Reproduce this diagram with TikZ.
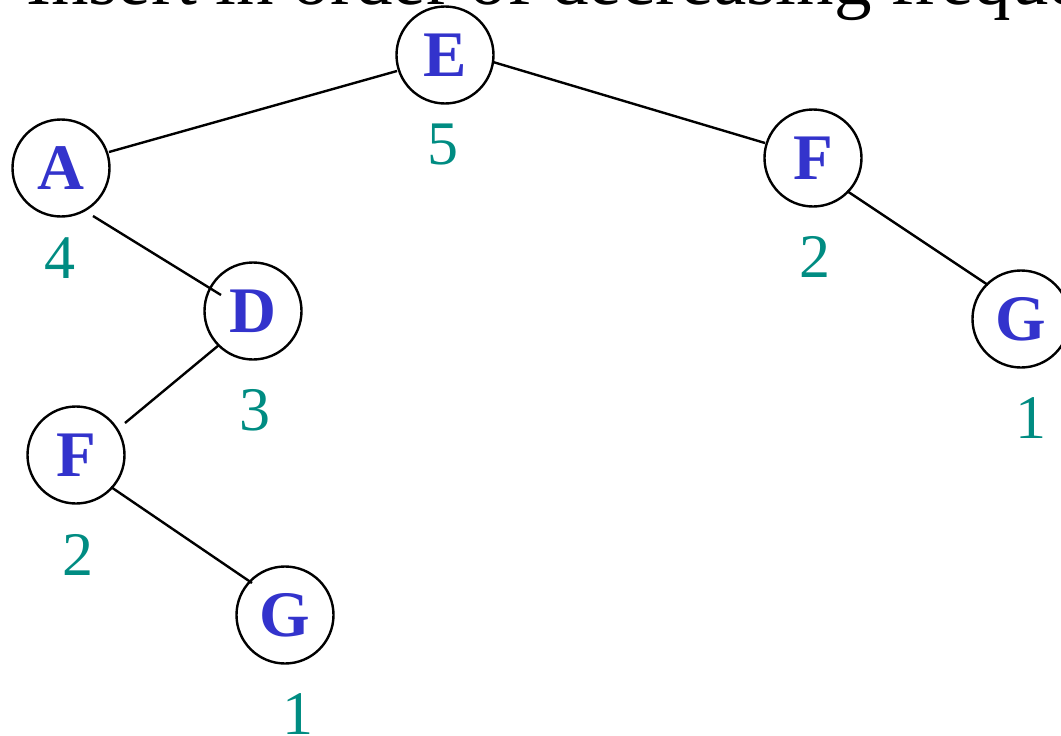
\documentclass[tikz,border=0pt]{standalone}
\usepackage{fontspec}
\setmainfont{Liberation Serif}
\definecolor{letterblue}{RGB}{51,51,204}
\definecolor{numteal}{RGB}{0,140,130}
\begin{document}
\begin{tikzpicture}[x=1pt,y=-1pt,
  vtx/.style={circle,draw,line width=2.4pt,minimum size=97pt,inner sep=0pt,text=letterblue,font=\fontsize{65}{65}\selectfont\bfseries},
  num/.style={text=numteal,anchor=base,inner sep=0pt,font=\fontsize{62}{62}\selectfont},
  edge/.style={line width=2.4pt}]
\useasboundingbox (0,0) rectangle (1061,736);
\clip (0,0) rectangle (1061,736);
\node[anchor=base west,inner sep=0pt,font=\fontsize{75}{75}\selectfont] (title) at (26,5) {Insert in order of decreasing frequency};
\node[vtx] (E) at (445,55) {E};
\node[vtx] (A) at (61,168) {A};
\node[vtx] (D) at (253,311) {D};
\node[vtx] (F1) at (76,455) {F};
\node[vtx] (G1) at (285,615) {G};
\node[vtx] (F2) at (813,158) {F};
\node[vtx] (G2) at (1021,319) {G};
\node[num] (nE) at (443,164) {5};
\node[num] (nA) at (60,278) {4};
\node[num] (nD) at (255,430) {3};
\node[num] (nF1) at (78,575) {2};
\node[num] (nG1) at (298,734) {1};
\node[num] (nF2) at (815,277) {2};
\node[num] (nG2) at (1031,438) {1};
\draw[edge] ([shift={(48,-16)}]A.center) -- ([shift={(-48,16)}]E.center);
\draw[edge] ([shift={(48,7)}]E.center) -- ([shift={(-48,-15)}]F2.center);
\draw[edge] ([shift={(32,48)}]A.center) -- ([shift={(-32,-16)}]D.center);
\draw[edge] ([shift={(-34,34)}]D.center) -- ([shift={(49,-32)}]F1.center);
\draw[edge] ([shift={(35,32)}]F1.center) -- ([shift={(-33,-32)}]G1.center);
\draw[edge] ([shift={(34,33)}]F2.center) -- ([shift={(-33,-34)}]G2.center);
\end{tikzpicture}
\end{document}
